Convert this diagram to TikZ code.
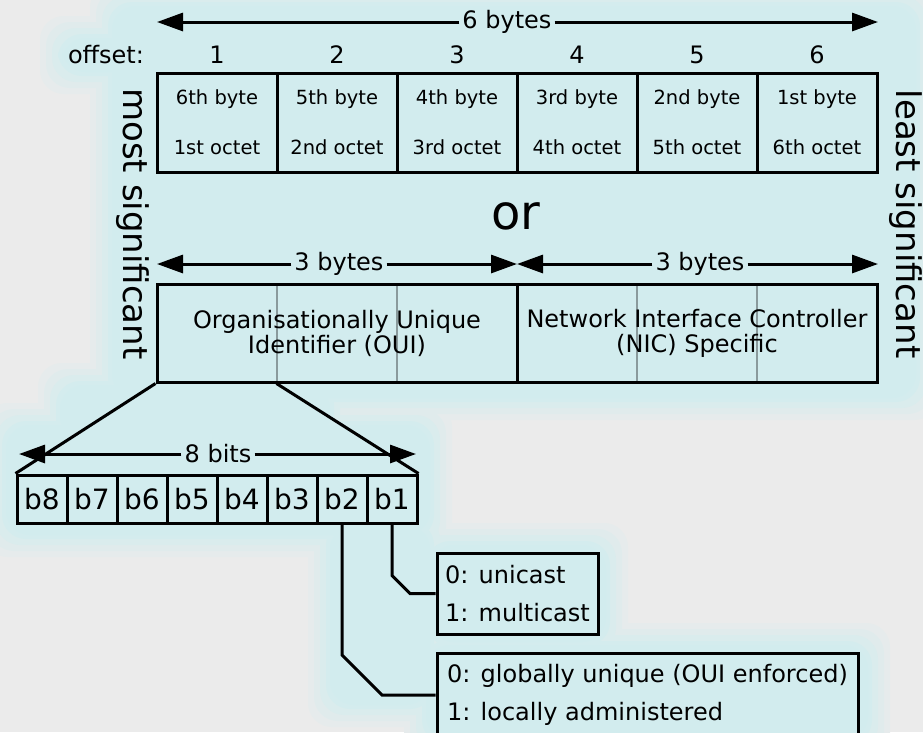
\documentclass[tikz,border=0pt]{standalone}
\usepackage{fontspec}
\setmainfont{DejaVu Sans}
\usetikzlibrary{arrows.meta,calc}
\definecolor{bgc}{HTML}{EBEBEB}
\definecolor{glowc}{HTML}{D2ECEE}
\definecolor{divc}{HTML}{8A9A9C}
\begin{document}
\begin{tikzpicture}[x=1pt,y=-1pt,
  box/.style={draw, line width=3pt, inner sep=0pt},
  cell/.style={box, minimum width=120pt, minimum height=99pt, align=center, font=\fontsize{19.5}{50}\selectfont},
  big/.style={box, minimum width=360pt, minimum height=98pt, align=center, font=\fontsize{24}{25}\selectfont},
  bitc/.style={box, minimum width=50pt, minimum height=48pt, font=\fontsize{28}{30}\selectfont},
  note/.style={box, align=left, font=\fontsize{24}{38}\selectfont},
  lab/.style={inner sep=3pt, font=\fontsize{24}{26}\selectfont},
  num/.style={anchor=base, inner sep=0pt, font=\fontsize{24}{26}\selectfont},
  side/.style={rotate=-90, inner sep=0pt, font=\fontsize{34}{36}\selectfont},
  arr/.style={line width=3pt, -{Triangle[length=26pt,width=18pt]}},
  conn/.style={line width=3pt, line join=miter},
  divl/.style={divc, line width=1.5pt}]
\path[use as bounding box, fill=bgc] (0,0) rectangle (923,732);
% glow: layers from outer (pale) to inner (full)
\foreach \dd/\pc in {22/20,16/45,10/70,4/90,0/100}{
  \foreach \xa/\ya/\xb/\yb in {112/6/916/398, 62/38/160/72, 6/425/430/535, 60/385/330/440, 330/525/430/705, 430/545/606/642, 426/645/868/740}{
    \fill[glowc!\pc!bgc, rounded corners=24pt] ({\xa-\dd},{\ya-\dd}) rectangle ({\xb+\dd},{\yb+\dd});
  }
}
% offsets
\node[num] (offl) at (106,63) {offset:};
\foreach \i/\x in {1/217,2/337,3/457,4/577,5/697,6/817}{\node[num] (off\i) at (\x,63) {\i};}
% top arrow
\node[lab] (six) at (507,22) {6 bytes};
\coordinate (sixL) at (157,22);
\coordinate (sixR) at (878,22);
\draw[arr] (six) -- (sixL);
\draw[arr] (six) -- (sixR);
% top cells
\node[cell] (c1) at (217,122.5) {6th byte\\1st octet};
\node[cell] (c2) at (337,122.5) {5th byte\\2nd octet};
\node[cell] (c3) at (457,122.5) {4th byte\\3rd octet};
\node[cell] (c4) at (577,122.5) {3rd byte\\4th octet};
\node[cell] (c5) at (697,122.5) {2nd byte\\5th octet};
\node[cell] (c6) at (817,122.5) {1st byte\\6th octet};
% side labels
\node[side] (most) at (133,224) {most significant};
\node[side] (least) at (906,224) {least significant};
\node[inner sep=0pt, font=\fontsize{48}{50}\selectfont] (or) at (516,216) {or};
% 3 bytes arrows
\node[lab] (tb1) at (339,264) {3 bytes};
\node[lab] (tb2) at (700,264) {3 bytes};
\coordinate (tbL) at (157,264);
\coordinate (tbM) at (517,264);
\coordinate (tbR) at (878,264);
\draw[arr] (tb1) -- (tbL);
\draw[arr] (tb1) -- (tbM);
\draw[arr] (tb2) -- (tbM);
\draw[arr] (tb2) -- (tbR);
% OUI / NIC boxes: thin byte dividers first, then the boxes with text on top
\foreach \x in {277,397,637,757}{\draw[divl] (\x,285) -- (\x,381);}
\node[big] (oui) at (337,333) {Organisationally Unique\\Identifier (OUI)};
\node[big] (nic) at (697,333) {Network Interface Controller\\(NIC) Specific};
% bits
\foreach \i in {1,...,8}{\node[bitc] (b\i) at ({17+25+(8-\i)*50},499) {b\i};}
\draw[conn] (oui.south west) -- (b8.north west);
\draw[conn] ($(oui.south west)!1/3!(oui.south east)$) -- (b1.north east);
\node[lab] (eight) at (218,454) {8 bits};
\coordinate (ebL) at (19,454);
\coordinate (ebR) at (416,454);
\draw[arr] (eight) -- (ebL);
\draw[arr] (eight) -- (ebR);
% notes
\node[note, minimum width=161pt, minimum height=81pt] (ucast) at (517.5,593.5) {0: unicast\\1: multicast};
\node[note, minimum width=421pt, minimum height=84pt] (glob) at (647.5,695) {0: globally unique (OUI enforced)\\1: locally administered};
\draw[conn] (b1.south) -- ($(b1.south |- ucast.west)+(0,-18)$) -- ($(b1.south |- ucast.west)+(18,0)$) -- (ucast.west);
\draw[conn] (b2.south) -- ($(b2.south |- glob.west)+(0,-40)$) -- ($(b2.south |- glob.west)+(40,0)$) -- (glob.west);
\end{tikzpicture}
\end{document}
